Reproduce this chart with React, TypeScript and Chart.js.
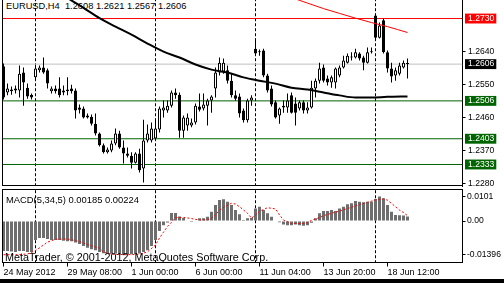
import React, { useEffect, useRef } from "react";
import { Chart, registerables } from "chart.js";

Chart.register(...registerables);

const FONT = '"Liberation Sans", Arial, Helvetica, sans-serif';

// ---------- data ----------
const symbolTitle = "EURUSD,H4";

const opens = [
  1.2600, 1.2529, 1.2532, 1.2534, 1.2534, 1.2583, 1.2542, 1.2523, 1.2570, 1.2589,
  1.2597, 1.2589, 1.2532, 1.2540, 1.2540, 1.2529, 1.2532, 1.2540, 1.2534, 1.2488,
  1.2485, 1.2461, 1.2463, 1.2444, 1.2417, 1.2385, 1.2366, 1.2371, 1.2390, 1.2417,
  1.2379, 1.2363, 1.2357, 1.2338, 1.2363, 1.2322, 1.2398, 1.2398, 1.2404, 1.2428,
  1.2480, 1.2480, 1.2493, 1.2529, 1.2523, 1.2425, 1.2439, 1.2439, 1.2447, 1.2491,
  1.2485, 1.2493, 1.2507, 1.2540, 1.2583, 1.2586, 1.2589, 1.2561, 1.2521, 1.2518,
  1.2480, 1.2453, 1.2507, 1.2648, 1.2638, 1.2643, 1.2575, 1.2540, 1.2502, 1.2466,
  1.2488, 1.2488, 1.2521, 1.2499, 1.2485, 1.2502, 1.2480, 1.2488, 1.2540, 1.2561,
  1.2597, 1.2567, 1.2556, 1.2556, 1.2575, 1.2597, 1.2610, 1.2627, 1.2624, 1.2635,
  1.2624, 1.2610, 1.2638, 1.2738, 1.2678, 1.2725, 1.2638, 1.2594, 1.2575, 1.2580,
  1.2597, 1.2608,
];
const highs = [
  1.2608, 1.2553, 1.2545, 1.2548, 1.2602, 1.2597, 1.2553, 1.2526, 1.2602, 1.2602,
  1.2624, 1.2594, 1.2545, 1.2548, 1.2570, 1.2548, 1.2570, 1.2550, 1.2540, 1.2496,
  1.2491, 1.2472, 1.2469, 1.2472, 1.2420, 1.2390, 1.2379, 1.2398, 1.2431, 1.2425,
  1.2398, 1.2379, 1.2366, 1.2366, 1.2376, 1.2455, 1.2442, 1.2447, 1.2453, 1.2491,
  1.2507, 1.2507, 1.2534, 1.2540, 1.2529, 1.2466, 1.2472, 1.2458, 1.2499, 1.2526,
  1.2526, 1.2512, 1.2521, 1.2597, 1.2624, 1.2621, 1.2602, 1.2580, 1.2534, 1.2526,
  1.2485, 1.2512, 1.2521, 1.2676, 1.2646, 1.2648, 1.2580, 1.2548, 1.2507, 1.2488,
  1.2507, 1.2526, 1.2529, 1.2515, 1.2507, 1.2507, 1.2502, 1.2561, 1.2567, 1.2610,
  1.2605, 1.2575, 1.2575, 1.2597, 1.2602, 1.2629, 1.2635, 1.2638, 1.2648, 1.2638,
  1.2629, 1.2651, 1.2651, 1.2744, 1.2719, 1.2730, 1.2643, 1.2610, 1.2597, 1.2610,
  1.2616, 1.2621,
];
const lows = [
  1.2510, 1.2521, 1.2523, 1.2526, 1.2515, 1.2493, 1.2512, 1.2510, 1.2561, 1.2583,
  1.2580, 1.2540, 1.2526, 1.2526, 1.2515, 1.2521, 1.2521, 1.2526, 1.2458, 1.2472,
  1.2458, 1.2458, 1.2439, 1.2412, 1.2382, 1.2363, 1.2363, 1.2366, 1.2385, 1.2376,
  1.2336, 1.2352, 1.2322, 1.2336, 1.2311, 1.2284, 1.2393, 1.2393, 1.2398, 1.2420,
  1.2461, 1.2474, 1.2488, 1.2512, 1.2406, 1.2406, 1.2425, 1.2434, 1.2442, 1.2477,
  1.2480, 1.2439, 1.2474, 1.2515, 1.2575, 1.2580, 1.2553, 1.2515, 1.2507, 1.2461,
  1.2447, 1.2447, 1.2493, 1.2629, 1.2629, 1.2570, 1.2529, 1.2491, 1.2458, 1.2444,
  1.2474, 1.2474, 1.2472, 1.2439, 1.2480, 1.2472, 1.2472, 1.2485, 1.2515, 1.2553,
  1.2556, 1.2548, 1.2542, 1.2540, 1.2570, 1.2594, 1.2608, 1.2616, 1.2621, 1.2616,
  1.2589, 1.2608, 1.2635, 1.2670, 1.2676, 1.2635, 1.2583, 1.2556, 1.2561, 1.2575,
  1.2594, 1.2567,
];
const closes = [
  1.2515, 1.2540, 1.2537, 1.2540, 1.2580, 1.2556, 1.2518, 1.2515, 1.2594, 1.2597,
  1.2583, 1.2553, 1.2540, 1.2532, 1.2521, 1.2534, 1.2537, 1.2532, 1.2480, 1.2482,
  1.2461, 1.2466, 1.2444, 1.2417, 1.2385, 1.2366, 1.2374, 1.2390, 1.2417, 1.2379,
  1.2363, 1.2357, 1.2338, 1.2363, 1.2317, 1.2398, 1.2417, 1.2431, 1.2431, 1.2485,
  1.2488, 1.2493, 1.2529, 1.2521, 1.2425, 1.2461, 1.2461, 1.2447, 1.2493, 1.2482,
  1.2496, 1.2507, 1.2518, 1.2583, 1.2610, 1.2610, 1.2561, 1.2521, 1.2512, 1.2472,
  1.2453, 1.2507, 1.2515, 1.2635, 1.2640, 1.2575, 1.2534, 1.2496, 1.2461, 1.2485,
  1.2493, 1.2507, 1.2474, 1.2474, 1.2502, 1.2480, 1.2488, 1.2542, 1.2561, 1.2594,
  1.2561, 1.2556, 1.2570, 1.2594, 1.2597, 1.2616, 1.2629, 1.2624, 1.2638, 1.2621,
  1.2610, 1.2638, 1.2640, 1.2678, 1.2711, 1.2638, 1.2594, 1.2572, 1.2589, 1.2602,
  1.2610, 1.2606,
];

// moving averages (read at sampled bars)
const maBlackBars = [0, 4, 8, 12, 16, 20, 24, 28, 32, 36, 40, 44, 48, 52, 56, 60, 64, 68, 72, 76, 80, 84, 88, 92, 96, 101];
const maBlackValues = [
  1.2905, 1.2874, 1.2845, 1.2815, 1.2786, 1.2759, 1.2731, 1.2708, 1.2686, 1.2662,
  1.2640, 1.2624, 1.2605, 1.2591, 1.2583, 1.2570, 1.2561, 1.2553, 1.2542, 1.2537,
  1.2529, 1.2521, 1.2515, 1.2515, 1.2517, 1.2518,
];
const maRedBars = [56, 60, 64, 68, 72, 76, 80, 84, 88, 92, 96, 101];
const maRedValues = [1.2840, 1.2826, 1.2813, 1.2800, 1.2787, 1.2772, 1.2757, 1.2744, 1.2731, 1.2719, 1.2708, 1.2692];

// horizontal levels
const resistanceLevels = [1.2730];
const bidLevel = 1.2606;
const supportLevels = [1.2506, 1.2403, 1.2333];
const priceTicks = [1.2280, 1.2370, 1.2460, 1.2550, 1.2640];

// week separators (bar index)
const separatorBars = [8, 38, 63, 93];

// MACD(5,34,5)
const macdHist = [
  -0.0124, -0.0124, -0.0126, -0.0128, -0.0124, -0.0124, -0.0128, -0.0128, -0.0078, -0.0070,
  -0.0070, -0.0074, -0.0078, -0.0078, -0.0078, -0.0081, -0.0083, -0.0083, -0.0089, -0.0095,
  -0.0103, -0.0110, -0.0116, -0.0120, -0.0128, -0.0133, -0.0134, -0.0135, -0.0134, -0.0136,
  -0.01396, -0.0138, -0.0137, -0.0136, -0.0134, -0.0128, -0.0120, -0.0103, -0.0078, -0.0041,
  -0.0017, -0.0006, 0.0033, 0.0033, 0.0019, 0.0012, 0.0002, -0.0004, -0.0002, 0.0011,
  0.0011, 0.0018, 0.0038, 0.0066, 0.0087, 0.0090, 0.0080, 0.0066, 0.0045, 0.0028,
  0.0004, 0.0011, 0.0014, 0.0052, 0.0059, 0.0045, 0.0032, 0.0018, 0.0002, -0.0005,
  -0.0014, -0.0017, -0.0017, -0.0014, -0.0017, -0.0019, -0.0017, -0.0007, 0.0011, 0.0032,
  0.0041, 0.0041, 0.0045, 0.0041, 0.0052, 0.0059, 0.0069, 0.0073, 0.0083, 0.0080,
  0.0077, 0.0080, 0.0080, 0.0091, 0.0101, 0.0094, 0.0066, 0.0038, 0.0025, 0.0024,
  0.0023, 0.00185,
];
const signalBars = [
  0, 3, 6, 8, 10, 11, 13, 16, 19, 21, 24, 25, 27, 31, 34, 36, 38, 39, 40, 41,
  42, 43, 45, 47, 49, 51, 52, 53, 54, 56, 57, 58, 59, 61, 62, 63, 64, 66, 68, 69,
  70, 72, 75, 76, 77, 79, 80, 82, 84, 87, 89, 91, 93, 95, 96, 98, 99, 100, 101,
];
const signalValues = [
  -0.0139, -0.0139, -0.0136, -0.0122, -0.0099, -0.0087, -0.0075, -0.0074, -0.0085, -0.0097,
  -0.0112, -0.0128, -0.0137, -0.0139, -0.0137, -0.0127, -0.0099, -0.0070, -0.0046, -0.0022,
  -0.0005, 0.0014, 0.0015, 0.0010, 0.0004, 0.0005, 0.0012, 0.0025, 0.0045, 0.0066,
  0.0073, 0.0070, 0.0059, 0.0032, 0.0012, 0.0025, 0.0040, 0.0055, 0.0050, 0.0025,
  0.0004, -0.0010, -0.0010, -0.0007, 0.0003, 0.0014, 0.0022, 0.0032, 0.0041, 0.0057,
  0.0068, 0.0077, 0.0087, 0.0091, 0.0086, 0.0059, 0.0045, 0.0035, 0.00224,
];
const macdTicks = [-0.01396, 0, 0.0101];
const macdTickLabels = ["-0.01396", "0.00", "0.0101"];

// time axis
const timeTickBars = [0, 16, 32, 48, 64, 80, 96];
const timeTickLabels = ["24 May 2012", "29 May 08:00", "1 Jun 00:00", "6 Jun 00:00", "11 Jun 04:00", "13 Jun 20:00", "18 Jun 12:00"];

// ---------- layout constants (not data) ----------
const X_MIN = -0.25;
const X_MAX = 114.75;
const PRICE_MIN = 1.22745;
const PRICE_MAX = 1.27804;
const MACD_MIN = -0.0171;
const MACD_MAX = 0.013;
const AXIS_W = 41.5;

const C_RED = "#ff0000";
const C_GREEN = "#006400";
const C_BID = "#c0c0c0";
const C_HIST = "#6e6e6e";

function levelColor(v: number): string | null {
  if (resistanceLevels.includes(v)) return C_RED;
  if (v === bidLevel) return "#000000";
  if (supportLevels.includes(v)) return C_GREEN;
  return null;
}

function hLine(v: number, color: string) {
  return {
    type: "line" as const,
    data: [{ x: X_MIN, y: v }, { x: X_MAX, y: v }],
    borderColor: color,
    borderWidth: 1,
    pointRadius: 0,
    order: 10,
  };
}

function vLine(bar: number, lo: number, hi: number) {
  return {
    type: "line" as const,
    data: [{ x: bar, y: hi }, { x: bar, y: lo }],
    borderColor: "#000",
    borderWidth: 1,
    borderDash: [3, 2],
    pointRadius: 0,
    order: 11,
  };
}

function framePlugin(drawTop: boolean, drawBottom: boolean) {
  return {
    id: "frame",
    afterDatasetsDraw(chart: any) {
      const { ctx, chartArea: a } = chart;
      ctx.save();
      ctx.strokeStyle = "#000";
      ctx.lineWidth = 1;
      ctx.setLineDash([]);
      ctx.beginPath();
      const lx = Math.floor(a.left) + 0.5;
      ctx.moveTo(lx, a.top);
      ctx.lineTo(lx, a.bottom);
      if (drawTop) {
        const ty = Math.floor(a.top) + 0.5;
        ctx.moveTo(a.left - 0.5, ty);
        ctx.lineTo(a.right, ty);
      }
      if (drawBottom) {
        const by = Math.ceil(a.bottom) - 0.5;
        ctx.moveTo(a.left - 0.5, by);
        ctx.lineTo(a.right + 0.5, by);
      }
      ctx.stroke();
      ctx.restore();
    },
  };
}

export default function App() {
  const mainRef = useRef<HTMLCanvasElement | null>(null);
  const macdRef = useRef<HTMLCanvasElement | null>(null);

  useEffect(() => {
    Chart.defaults.font.family = FONT;
    Chart.defaults.font.size = 9;
    const bars = opens.map((_, i) => i);
    const allPriceTicks = [...priceTicks, ...resistanceLevels, bidLevel, ...supportLevels];

    const main = new Chart(mainRef.current as HTMLCanvasElement, {
      type: "bar",
      data: {
        datasets: [
          ...resistanceLevels.map((v) => hLine(v, C_RED)),
          hLine(bidLevel, C_BID),
          ...supportLevels.map((v) => hLine(v, C_GREEN)),
          ...separatorBars.map((b) => vLine(b, PRICE_MIN - 0.01, PRICE_MAX + 0.01)),
          {
            type: "bar",
            data: bars.map((i) => ({ x: i, y: [lows[i], highs[i]] })),
            backgroundColor: "#000",
            borderWidth: 0,
            barThickness: 1,
            grouped: false,
            inflateAmount: 0,
            order: 3,
          },
          {
            type: "bar",
            data: bars.map((i) => ({ x: i, y: [opens[i], closes[i]] })),
            backgroundColor: (c: any) => (closes[c.dataIndex] >= opens[c.dataIndex] ? "#ffffff" : "#000000"),
            borderColor: "#000",
            borderWidth: 1,
            borderSkipped: false,
            barThickness: 3,
            minBarLength: 1,
            grouped: false,
            inflateAmount: 0,
            order: 2,
          },
          {
            type: "line",
            data: maBlackBars.map((b, k) => ({ x: b, y: maBlackValues[k] })),
            borderColor: "#000",
            borderWidth: 2,
            pointRadius: 0,
            cubicInterpolationMode: "monotone",
            order: 1,
          },
          {
            type: "line",
            data: maRedBars.map((b, k) => ({ x: b, y: maRedValues[k] })),
            borderColor: C_RED,
            borderWidth: 1,
            pointRadius: 0,
            cubicInterpolationMode: "monotone",
            order: 1,
          },
        ] as any,
      },
      options: {
        animation: false,
        responsive: false,
        events: [],
        layout: { padding: { left: 2.5, right: 0, top: 0, bottom: 1 } },
        plugins: { legend: { display: false }, tooltip: { enabled: false }, title: { display: false } },
        scales: {
          x: { type: "linear", min: X_MIN, max: X_MAX, offset: false, display: false, grid: { offset: false } },
          y: {
            type: "linear",
            position: "right",
            min: PRICE_MIN,
            max: PRICE_MAX,
            afterBuildTicks: (s: any) => {
              s.ticks = allPriceTicks.map((v) => ({ value: v }));
            },
            afterFit: (s: any) => {
              s.width = AXIS_W;
              s.paddingTop = 0;
              s.paddingBottom = 0;
            },
            grid: {
              display: true,
              drawOnChartArea: false,
              drawTicks: true,
              tickLength: 3,
              color: (c: any) => (c.tick && levelColor(c.tick.value) ? "rgba(0,0,0,0)" : "#000"),
            },
            border: { display: true, color: "#000", width: 1 },
            ticks: {
              autoSkip: false,
              padding: 2.5,
              font: { family: FONT, size: 8.6, lineHeight: 1.15 },
              color: (c: any) => (c.tick && levelColor(c.tick.value) ? "#ffffff" : "#000000"),
              showLabelBackdrop: (c: any) => !!(c.tick && levelColor(c.tick.value)),
              backdropColor: (c: any) => (c.tick && levelColor(c.tick.value)) || "rgba(0,0,0,0)",
              backdropPadding: { top: 0, bottom: 0, left: 3, right: 2 },
              callback: (v: any) => Number(v).toFixed(4),
            } as any,
          },
        },
      } as any,
      plugins: [framePlugin(false, true)],
    });

    const macd = new Chart(macdRef.current as HTMLCanvasElement, {
      type: "bar",
      data: {
        datasets: [
          ...separatorBars.map((b) => vLine(b, MACD_MIN - 0.01, MACD_MAX + 0.01)),
          {
            type: "bar",
            data: macdHist.map((v, i) => ({ x: i, y: v })),
            backgroundColor: C_HIST,
            borderWidth: 0,
            barThickness: 3,
            grouped: false,
            inflateAmount: 0,
            order: 2,
          },
          {
            type: "line",
            data: signalBars.map((b, k) => ({ x: b, y: signalValues[k] })),
            borderColor: C_RED,
            borderWidth: 1,
            borderDash: [2, 2],
            pointRadius: 0,
            tension: 0,
            order: 1,
          },
        ] as any,
      },
      options: {
        animation: false,
        responsive: false,
        events: [],
        layout: { padding: { left: 2.5, right: 0, top: 2.5, bottom: 0 } },
        plugins: { legend: { display: false }, tooltip: { enabled: false }, title: { display: false } },
        scales: {
          x: {
            type: "linear",
            position: "bottom",
            min: X_MIN,
            max: X_MAX,
            offset: false,
            afterBuildTicks: (s: any) => {
              s.ticks = timeTickBars.map((v) => ({ value: v }));
            },
            afterFit: (s: any) => {
              s.height = 20.5;
              s.paddingLeft = 0;
              s.paddingRight = 0;
            },
            grid: { display: true, offset: false, drawOnChartArea: false, drawTicks: true, tickLength: 4, color: "#000" },
            border: { display: true, color: "#000", width: 1 },
            ticks: {
              autoSkip: false,
              maxRotation: 0,
              minRotation: 0,
              align: "start",
              padding: 0.5,
              color: "#000",
              font: { family: FONT, size: 9 },
              callback: (v: any) => timeTickLabels[timeTickBars.indexOf(Number(v))] ?? "",
            },
          },
          y: {
            type: "linear",
            position: "right",
            min: MACD_MIN,
            max: MACD_MAX,
            afterBuildTicks: (s: any) => {
              s.ticks = macdTicks.map((v) => ({ value: v }));
            },
            afterFit: (s: any) => {
              s.width = AXIS_W;
              s.paddingTop = 0;
              s.paddingBottom = 0;
            },
            grid: { display: true, drawOnChartArea: false, drawTicks: true, tickLength: 3, color: "#000" },
            border: { display: true, color: "#000", width: 1 },
            ticks: {
              autoSkip: false,
              padding: 1.5,
              color: "#000",
              font: { family: FONT, size: 8.6 },
              callback: (v: any) => macdTickLabels[macdTicks.indexOf(Number(v))] ?? "",
            },
          },
        },
      } as any,
      plugins: [framePlugin(true, false)],
    });

    return () => {
      main.destroy();
      macd.destroy();
    };
  }, []);

  const last = opens.length - 1;
  const titleText = `${symbolTitle}  ${opens[last].toFixed(4)} ${highs[last].toFixed(4)} ${lows[last].toFixed(4)} ${closes[last].toFixed(4)}`;
  const macdText = `MACD(5,34,5) ${macdHist[last].toFixed(5)} ${signalValues[signalValues.length - 1].toFixed(5)}`;

  const textStyle: React.CSSProperties = {
    position: "absolute",
    fontFamily: FONT,
    lineHeight: "10px",
    color: "#000",
    whiteSpace: "pre",
    margin: 0,
  };

  return (
    <div
      style={{
        position: "fixed",
        left: 0,
        top: 0,
        width: 504,
        height: 283,
        background: "#ffffff",
        overflow: "hidden",
      }}
    >
      <div style={{ ...textStyle, fontSize: 9.3, left: 6, top: 1.3, zIndex: 0 }}>{titleText}</div>
      <canvas
        ref={mainRef}
        width={504}
        height={187}
        style={{ position: "absolute", left: 0, top: 0, width: 504, height: 187, display: "block", zIndex: 1 }}
      />
      <canvas
        ref={macdRef}
        width={504}
        height={96}
        style={{ position: "absolute", left: 0, top: 187, width: 504, height: 96, display: "block", zIndex: 1 }}
      />
      <div style={{ ...textStyle, fontSize: 9.4, left: 6, top: 195.2, zIndex: 2 }}>{macdText}</div>
      <div style={{ ...textStyle, fontSize: 10.8, left: 5, top: 252.3, zIndex: 2 }}>
        MetaTrader, © 2001-2012, MetaQuotes Software Corp.
      </div>
      <div style={{ position: "absolute", left: 0, top: 279, width: 504, height: 4, background: "#000", zIndex: 3 }} />
    </div>
  );
}
